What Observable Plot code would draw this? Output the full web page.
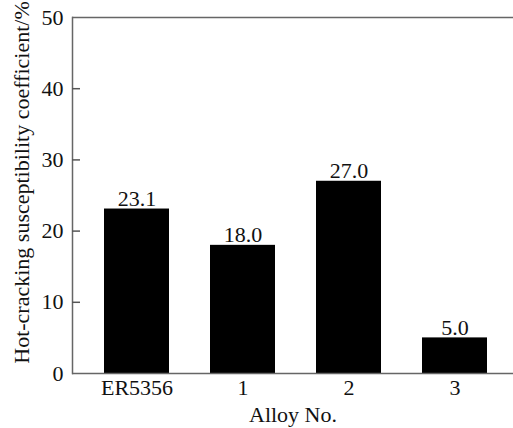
<!DOCTYPE html>
<html>
<head>
<meta charset="utf-8">
<script src="https://cdn.jsdelivr.net/npm/d3@7"></script>
<script src="https://cdn.jsdelivr.net/npm/@observablehq/plot@0.6"></script>
<style>
  html, body { margin: 0; padding: 0; background: #fff; }
  #chart svg { display: block; }
</style>
</head>
<body>
<div id="chart"></div>
<script>
const alloys = ["ER5356", "1", "2", "3"];
const coefficients = [23.1, 18.0, 27.0, 5.0];
const valueLabels = ["23.1", "18.0", "27.0", "5.0"];
const yTicks = [0, 10, 20, 30, 40, 50];

const data = alloys.map((a, i) => ({alloy: a, value: coefficients[i], label: valueLabels[i]}));

const W = 513, ML = 72, TICK = 8;
const FS = 22;
const chart = Plot.plot({
  width: W,
  height: 428,
  marginLeft: ML,
  marginRight: 0,
  marginTop: 17,
  marginBottom: 55,
  style: {fontFamily: "'Liberation Serif', 'Times New Roman', serif", fontSize: FS + "px", color: "#111", background: "#fff"},
  x: {domain: alloys, range: [72, 519], paddingInner: 0.387, paddingOuter: 0.3, label: null},
  y: {domain: [0, 50], label: null},
  marks: [
    Plot.barY(data, {x: "alloy", y: "value", fill: "#000"}),
    Plot.text(data, {x: "alloy", y: "value", text: "label", lineAnchor: "bottom", dy: -3, fill: "#111", fontSize: FS}),
    Plot.ruleY([0, 50], {stroke: "#666", strokeWidth: 1.5}),
    Plot.frame({insetLeft: -0.75, insetTop: -0.75, insetBottom: -0.75, insetRight: W - ML - 0.75, fill: "#666", stroke: null}),
    Plot.tickY(yTicks.filter(d => d > 0 && d < 50), {y: d => d, insetRight: W - ML - TICK, stroke: "#555", strokeWidth: 1.5}),
    Plot.axisY({ticks: yTicks, tickSize: 0, tickPadding: 9, tickFormat: d => String(d), label: null, fontSize: FS}),
    Plot.axisX({tickSize: 0, tickPadding: 6, label: null, fontSize: FS}),
    Plot.text(["Alloy No."], {frameAnchor: "bottom", dy: 48, fontSize: FS, fill: "#111"}),
    Plot.text(["Hot-cracking susceptibility coefficient/%"], {frameAnchor: "left", textAnchor: "middle", dx: -51, dy: -13, rotate: -90, fontSize: FS, fill: "#111"})
  ]
});
document.getElementById("chart").appendChild(chart);
</script>
</body>
</html>
